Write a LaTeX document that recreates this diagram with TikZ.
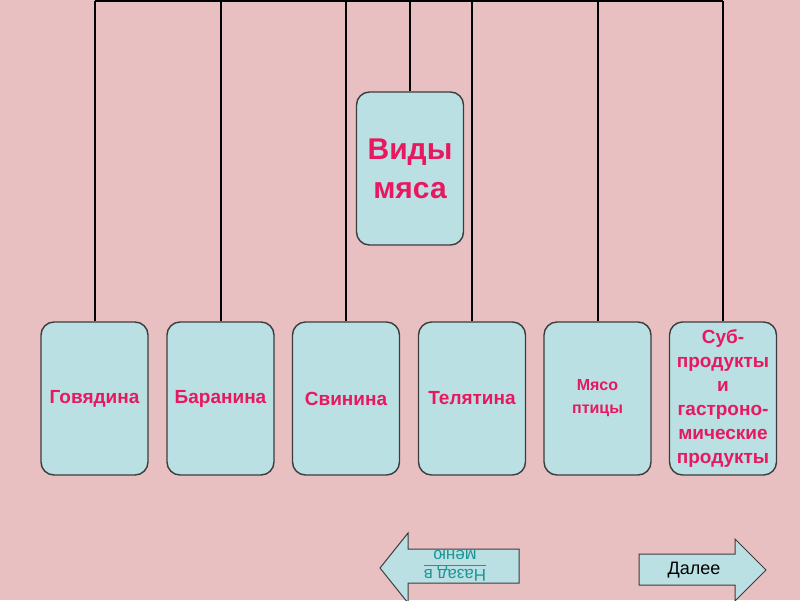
\documentclass[tikz,border=0pt]{standalone}
\usepackage{fontspec}
\setmainfont{Liberation Sans}

\definecolor{fon}{RGB}{232,192,193}
\definecolor{yach}{RGB}{187,224,227}
\definecolor{kraj}{RGB}{60,60,60}
\definecolor{bukva}{RGB}{232,24,96}
\definecolor{ssylka}{RGB}{30,150,150}

\begin{document}
\begin{tikzpicture}[x=1pt,y=-1pt,
  vid/.style={draw=kraj,line width=1.4pt,fill=yach,rounded corners=13pt,
    minimum width=107pt,minimum height=153pt,inner sep=1pt,align=center,
    text=bukva,font=\bfseries\fontsize{19}{24}\selectfont},
  svyaz/.style={draw=black,line width=2pt},
  strelka/.style={draw=kraj,line width=1pt,fill=yach}]
		  \fill[fon] (0,0) rectangle (800,600);
		  \useasboundingbox (0,0) rectangle (800,600);
		  \node[vid,font=\bfseries\fontsize{30}{39}\selectfont] (vidy) at (410,168.5) {Виды\\мяса};
		  \node[vid] (gov)   at (94.5,398.5)  {Говядина};
		  \node[vid] (bar)   at (220.5,398.5) {Баранина};
		  \node[vid] (svin)  at (346,398.5)   {Свинина};
		  \node[vid] (tel)   at (472,398.5)   {Телятина};
		  \node[vid,font=\bfseries\fontsize{16}{23}\selectfont] (ptica) at (597.5,398.5) {Мясо\\птицы};
		  \node[vid] (sub)   at (723,398.5)   {Суб-\\продукты\\и\\гастроно-\\мические\\продукты};
		  \coordinate (verhL) at (94.5,1);
		  \coordinate (verhR) at (723,1);
		  \path[svyaz] (verhL) edge (verhR);
		  \path[svyaz] (vidy) edge (vidy |- verhL);
		  \path[svyaz] (gov)  edge (gov |- verhL);
		  \path[svyaz] (bar)  edge (bar |- verhL);
		  \path[svyaz] (svin) edge (svin |- verhL);
		  \path[svyaz] (tel)  edge (tel |- verhL);
		  \path[svyaz] (ptica) edge (ptica |- verhL);
		  \path[svyaz] (sub)  edge (sub |- verhL);
		  % strelki vnizu
		  \draw[strelka] (519,549) -- (408,549) -- (408,533) -- (380,568) -- (408,603) -- (408,583) -- (519,583) -- cycle;
		  \draw[strelka] (639,554) -- (735,554) -- (735,539) -- (766,570) -- (735,601) -- (735,585) -- (639,585) -- cycle;
		  \node[rotate=180,text=ssylka,align=center,inner sep=1pt,font=\fontsize{17}{19}\selectfont] (nazad) at (455,565) {\underline{Назад в}\\\underline{меню}};
		  \node[font=\fontsize{18}{18}\selectfont] (dalee) at (694,570) {Далее};
		\end{tikzpicture}
\end{document}
